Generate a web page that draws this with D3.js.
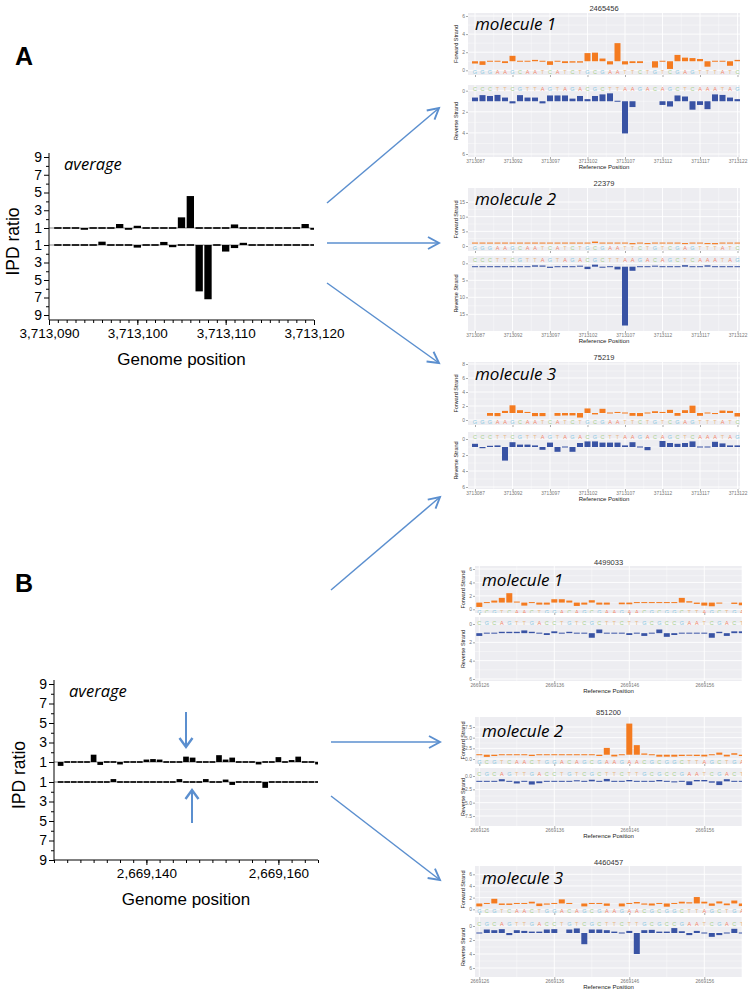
<!DOCTYPE html>
<html><head><meta charset="utf-8">
<script src="https://cdn.jsdelivr.net/npm/d3@7"></script>
<style>body{margin:0;background:#fff}svg{display:block}</style>
</head><body>
<svg id="chart" width="749" height="997"></svg>
<script>
// ---- data ----
// average IPD ratio, panel A (first value at 3,713,091)
var avgA_start = 3713091;
var avgA_fwd = [1.0,1.0,1.0,0.8,1.0,1.0,1.1,1.45,0.8,1.25,1.0,1.1,0.95,0.85,2.2,4.6,1.05,0.9,1.0,1.0,1.4,0.9,0.85,1.0,0.95,1.0,1.0,0.85,1.45,0.8];
var avgA_rev = [1.0,0.95,1.0,0.9,0.95,0.62,1.1,1.0,1.0,1.3,1.0,1.0,0.65,1.25,0.9,1.15,6.3,7.2,0.9,1.75,1.35,0.75,1.0,1.0,1.0,0.85,1.0,1.0,1.0,1.0];
// average IPD ratio, panel B (first value at 2,669,127)
var avgB_start = 2669127;
var avgB_fwd = [0.6,1.1,1.0,0.95,1.1,1.75,0.7,1.15,1.1,0.75,1.0,0.9,1.0,1.25,1.3,1.25,1.0,1.0,1.15,1.55,1.45,1.1,1.05,1.0,1.7,1.25,1.45,1.0,1.05,1.0,0.75,1.05,1.1,1.5,1.0,1.2,1.55,0.95,1.0,0.75];
var avgB_rev = [0.9,0.85,1.1,1.0,1.0,0.9,1.0,1.0,0.7,1.0,1.05,1.0,1.0,0.95,0.85,1.0,1.05,1.0,0.7,1.0,1.1,1.0,0.7,1.0,1.0,0.75,1.3,1.0,1.0,1.05,1.0,1.6,1.0,1.0,0.95,1.0,1.1,1.0,1.0,1.05];

// single molecules, panel A (first value at 3713087)
var molA_start = 3713087;
var seqA_fwd = "GGGAAGCAATCATCTGCGAATTCTGTCGAGTTTATC";
var seqA_rev = "CCCTTCGTTAGTAGACGCTTAAGACAGCTCAAATAG";
var mA1_fwd = [0.75,0.6,0.95,0.95,0.8,1.6,0.95,1.05,1.15,1.1,0.6,1.1,0.8,0.85,0.85,1.9,1.95,1.3,0.65,3.0,0.65,0.8,0.8,null,0.3,0.95,0.15,1.7,1.4,1.35,1.25,0.4,1.0,1.05,0.5,1.15];
var mA1_rev = [0.65,0.42,0.5,0.4,0.65,1.2,0.42,0.65,0.65,1.2,0.45,0.45,0.45,0.75,0.5,0.8,0.5,0.35,0.25,1.05,4.05,1.55,null,null,null,1.35,1.5,0.45,0.55,1.8,1.35,1.75,0.35,0.4,0.65,0.8];
var mA2_fwd = [1.1,0.7,1.0,1.0,1.05,0.9,0.85,0.9,0.9,0.8,0.75,0.9,0.9,0.95,1.0,0.7,1.5,0.8,0.7,0.8,1.05,0.6,1.0,0.65,0.8,0.9,0.75,0.9,0.65,1.0,0.75,0.65,0.6,0.75,0.85,0.8];
var mA2_rev = [1.0,0.8,0.8,0.85,0.85,0.9,1.0,0.8,0.6,0.65,1.35,1.0,1.2,1.0,0.7,1.7,0.4,1.3,0.8,1.8,18.3,2.2,1.0,0.85,0.7,1.2,0.8,1.0,0.55,1.25,1.0,0.6,0.85,0.8,0.85,0.85];
var mA3_fwd = [null,null,0.6,0.55,1.3,2.1,1.4,1.15,0.55,0.55,null,0.6,0.65,0.65,0.35,1.65,0.8,1.6,0.95,1.15,1.05,0.6,0.55,0.95,1.25,1.15,1.45,0.6,1.4,2.05,0.6,1.05,0.85,1.35,1.3,0.5];
var mA3_rev = [0.6,1.15,0.85,0.8,2.7,0.4,0.7,0.7,0.8,1.35,0.45,1.6,1.1,1.6,0.5,0.3,0.3,0.45,0.45,0.45,0.8,0.4,1.1,1.4,null,0.25,0.5,0.6,0.5,0.3,1.05,1.05,0.35,0.55,0.8,0.8];

// single molecules, panel B (first value at 2669126)
var molB_start = 2669126;
var seqB_fwd = "GCGTCAACTGGACAGCGAAGAACGCGGCTTAGCTGA";
var seqB_rev = "CGCAGTTGACCTGTCGCTTCTTGCGCCGAATCGACT";
var mB1_fwd = [0.35,1.05,1.3,1.7,2.4,1.15,0.55,1.05,0.7,0.7,1.5,1.5,1.3,0.5,0.7,1.35,0.7,0.7,null,0.75,0.75,1.0,0.95,1.0,1.05,1.0,1.0,1.7,1.2,0.8,0.55,0.45,0.85,null,0.8,0.6];
var mB1_rev = [1.3,0.9,1.1,0.85,0.85,0.85,0.7,0.85,0.95,1.2,0.8,1.05,0.85,1.1,1.0,1.5,0.6,1.1,0.95,0.95,1.2,0.95,1.3,0.9,0.6,1.4,1.2,1.0,1.0,1.05,1.0,1.5,0.85,1.3,0.8,0.8];
var mB2_fwd = [1.1,0.5,0.7,1.0,1.05,0.9,1.0,0.7,0.9,0.9,0.9,0.9,0.95,1.2,0.9,0.95,0.7,2.6,0.6,1.2,8.3,3.25,1.3,1.0,0.55,0.55,0.55,0.7,0.75,0.7,0.6,1.0,1.5,0.6,1.35,0.7];
var mB2_rev = [1.05,1.0,1.0,0.6,1.15,1.4,1.15,1.6,1.35,1.05,1.0,0.9,1.0,0.8,1.15,0.7,1.0,0.55,1.0,1.0,0.75,0.85,1.1,0.85,0.75,1.1,1.2,1.0,1.7,0.75,0.75,1.25,1.7,0.6,1.05,1.05];
var mB3_fwd = [0.5,1.0,1.8,0.75,0.75,1.1,0.85,1.3,0.55,0.8,0.95,1.7,1.0,null,0.5,1.1,0.85,0.6,null,0.5,0.9,1.25,0.8,0.65,1.0,0.45,1.15,1.3,1.2,2.1,1.3,0.6,1.35,0.7,1.5,0.55];
var mB3_rev = [1.1,0.5,0.6,0.45,1.3,0.6,0.7,0.8,0.8,0.5,0.45,null,0.5,0.35,2.6,0.5,0.5,0.6,0.8,1.1,0.7,4.0,0.6,0.55,0.8,0.8,0.3,0.75,1.3,0.7,1.0,1.55,1.3,0.95,0.4,1.0];

var ipdTicks = [1, 3, 5, 7, 9];
var ipdMinor = [2, 4, 6, 8];

var svg = d3.select("#chart");
var ARIAL = "'Liberation Sans', Arial, sans-serif";
var ITAL = "'Open Sans', 'Noto Sans', sans-serif";
var arrowBlue = "#5b8fcf";

// ---- big "average" chart ----
function drawAverage(L, start, fwd, rev) {
  var g = svg.append("g");
  var x = d3.scaleLinear().domain(L.xd).range(L.xr);
  var yF = d3.scaleLinear().domain([1, 9]).range([L.yF1, L.yF9]);
  var yR = d3.scaleLinear().domain([1, 9]).range([L.yR1, L.yR9]);
  var bw = (x(1) - x(0)) * L.bw;

  var clipId = "clip" + L.id;
  svg.append("clipPath").attr("id", clipId).append("rect")
    .attr("x", L.xr[0]).attr("y", L.yF9 - 5).attr("width", L.xr[1] - L.xr[0]).attr("height", L.axisY - L.yF9 + 5);
  var plot = g.append("g").attr("clip-path", "url(#" + clipId + ")");

  [yF(1), yR(1)].forEach(function(yy) {
    plot.append("line").attr("x1", L.xr[0]).attr("x2", L.xr[1]).attr("y1", yy).attr("y2", yy)
      .attr("stroke", "#888").attr("stroke-width", 1);
  });

  function bars(data, y) {
    plot.append("g").selectAll("rect").data(data).join("rect")
      .attr("x", function(d, i) { return x(start + i) - bw / 2; })
      .attr("width", bw)
      .attr("y", function(d) { var h = Math.abs(y(d) - y(1)); return h < 1.6 ? y(1) - 0.8 : Math.min(y(d), y(1)); })
      .attr("height", function(d) { return Math.max(1.6, Math.abs(y(d) - y(1))); })
      .attr("fill", "#000");
  }
  bars(fwd, yF);
  bars(rev, yR);

  // axes
  g.append("line").attr("x1", L.xr[0]).attr("x2", L.xr[0]).attr("y1", L.yF9 - 4).attr("y2", L.axisY).attr("stroke", "#000");
  g.append("line").attr("x1", L.xr[0]).attr("x2", L.xr[1]).attr("y1", L.axisY).attr("y2", L.axisY).attr("stroke", "#000");

  [yF, yR].forEach(function(y) {
    var a = g.append("g").attr("transform", "translate(" + L.xr[0] + ",0)")
      .call(d3.axisLeft(y).tickValues(ipdTicks).tickSize(5).tickPadding(2));
    a.select(".domain").remove();
    a.selectAll("text").attr("font-family", ARIAL).attr("font-size", 14).attr("fill", "#000");
    var m = g.append("g").attr("transform", "translate(" + L.xr[0] + ",0)")
      .call(d3.axisLeft(y).tickValues(ipdMinor).tickSize(3).tickFormat(""));
    m.select(".domain").remove();
  });

  var xm = g.append("g").attr("transform", "translate(0," + L.axisY + ")")
    .call(d3.axisBottom(x).tickValues(d3.range(L.xd[0], L.xd[1] + 1, L.minorStep)).tickSize(3).tickFormat(""));
  xm.select(".domain").remove();
  var xa = g.append("g").attr("transform", "translate(0," + L.axisY + ")")
    .call(d3.axisBottom(x).tickValues(L.xLabels).tickSize(5).tickPadding(3).tickFormat(d3.format(",")));
  xa.select(".domain").remove();
  xa.selectAll("text").attr("font-family", ARIAL).attr("font-size", 13.5).attr("fill", "#000");

  g.append("text").attr("x", L.xr[0] + 15).attr("y", L.yF9 + 13).text("average")
    .attr("font-family", ITAL).attr("font-style", "italic").attr("font-size", 16.5);
  g.append("text").attr("transform", "translate(" + L.ylabX + "," + ((L.yF9 + L.axisY) / 2 + 3) + ") rotate(-90)")
    .attr("text-anchor", "middle").text("IPD ratio").attr("font-family", ARIAL).attr("font-size", 17.5);
  g.append("text").attr("x", (L.xr[0] + L.xr[1]) / 2).attr("y", L.axisY + 45).attr("text-anchor", "middle")
    .text("Genome position").attr("font-family", ARIAL).attr("font-size", 17);
}

// ---- single-molecule panels ----
var baseColor = { A: "#f3876a", C: "#a9d08f", G: "#8cc9e2", T: "#e9b886" };

function drawMolecule(L, start, fwd, rev, sf, sr) {
  var g = svg.append("g");
  var x = d3.scaleLinear().domain([start, start + 35]).range([L.x0, L.x0 + 35 * 7.5]);
  var yF = d3.scaleLinear().domain([0, L.fMax]).range([L.fZero, L.fTopY]);
  var yR = d3.scaleLinear().domain([0, L.rMax]).range([L.rZero, L.rBotY]);
  var bw = 6;
  var fmt = L.fmt || d3.format("d");

  g.append("text").attr("x", (L.px0 + L.px1) / 2).attr("y", L.titleY).attr("text-anchor", "middle")
    .text(L.title).attr("font-family", ARIAL).attr("font-size", 7.5).attr("fill", "#333");

  function facet(top, bot, y, ticks, data, seq, seqY, color, id, label) {
    g.append("rect").attr("x", L.px0).attr("y", top).attr("width", L.px1 - L.px0).attr("height", bot - top).attr("fill", "#ededf1");
    svg.append("clipPath").attr("id", id).append("rect").attr("x", L.px0).attr("y", top).attr("width", L.px1 - L.px0).attr("height", bot - top);
    var p = g.append("g").attr("clip-path", "url(#" + id + ")");
    // grid
    var xs = d3.range(start - 10, start + 50, L.step / 2);
    p.selectAll(".vg").data(xs).join("line").attr("x1", x).attr("x2", x).attr("y1", top).attr("y2", bot)
      .attr("stroke", "#fff").attr("stroke-width", function(d) { return (d - L.gridOrigin) % L.step === 0 ? 0.9 : 0.4; });
    var hs = ticks.concat(ticks.slice(0, -1).map(function(t, i) { return (t + ticks[i + 1]) / 2; }));
    p.selectAll(".hg").data(hs).join("line").attr("x1", L.px0).attr("x2", L.px1).attr("y1", y).attr("y2", y)
      .attr("stroke", "#fff").attr("stroke-width", function(d) { return ticks.indexOf(d) >= 0 ? 0.9 : 0.4; });
    // letters
    p.selectAll(".ltr").data(seq.split("")).join("text")
      .attr("x", function(d, i) { return x(start + i); }).attr("y", seqY + 2)
      .attr("text-anchor", "middle").text(function(d) { return d; })
      .attr("font-family", ARIAL).attr("font-size", 5.5).attr("fill", function(d) { return baseColor[d]; });
    // bars
    p.selectAll(".bar").data(data.map(function(v, i) { return { p: start + i, v: v }; }).filter(function(d) { return d.v !== null; }))
      .join("rect")
      .attr("x", function(d) { return x(d.p) - bw / 2; }).attr("width", bw)
      .attr("y", function(d) { var h = Math.abs(y(d.v) - y(1)); return h < 1 ? y(1) - 0.5 : Math.min(y(d.v), y(1)); })
      .attr("height", function(d) { return Math.max(1, Math.abs(y(d.v) - y(1))); })
      .attr("fill", color);
    // y axis
    var a = g.append("g").attr("transform", "translate(" + L.px0 + ",0)")
      .call(d3.axisLeft(y).tickValues(ticks).tickSize(2).tickPadding(1).tickFormat(fmt));
    a.select(".domain").remove();
    a.selectAll("line").attr("stroke", "#555").attr("stroke-width", 0.5);
    a.selectAll("text").attr("font-family", ARIAL).attr("font-size", 5).attr("fill", "#777");
    g.append("text").attr("transform", "translate(" + (L.px0 - 10) + "," + ((top + bot) / 2) + ") rotate(-90)")
      .attr("text-anchor", "middle").text(label).attr("font-family", ARIAL).attr("font-size", 5.5).attr("fill", "#222");
  }

  facet(L.fTop, L.fBot, yF, d3.range(0, L.fMax + 0.01, L.fStep), fwd, sf, L.fSeqY, "#f47b20", "cf" + L.id, "Forward Strand");
  facet(L.rTop, L.rBot, yR, d3.range(0, L.rMax + 0.01, L.rStep), rev, sr, L.rSeqY, "#3953a4", "cr" + L.id, "Reverse Strand");

  var labs = d3.range(L.gridOrigin, start + 40, L.step).filter(function(d) { return x(d) <= L.px1 + 2; });
  [L.fBot, L.rBot].forEach(function(yy, k) {
    var ax = g.append("g").attr("transform", "translate(0," + yy + ")")
      .call(d3.axisBottom(x).tickValues(labs).tickSize(2).tickPadding(1).tickFormat(k ? d3.format("d") : ""));
    ax.select(".domain").remove();
    ax.selectAll("line").attr("stroke", "#555").attr("stroke-width", 0.5);
    ax.selectAll("text").attr("font-family", ARIAL).attr("font-size", 4.8).attr("fill", "#777");
  });
  g.append("text").attr("x", (L.px0 + L.px1) / 2).attr("y", L.rBot + 12).attr("text-anchor", "middle")
    .text("Reference Position").attr("font-family", ARIAL).attr("font-size", 6).attr("fill", "#222");

  g.append("text").attr("x", L.px0 + 7).attr("y", L.nameY).text(L.name)
    .attr("font-family", ITAL).attr("font-style", "italic").attr("font-size", 17).attr("fill", "#000");
}

// ---- arrows ----
function arrow(x1, y1, x2, y2, w, len, half) {
  var ang = Math.atan2(y2 - y1, x2 - x1);
  var p1 = [x2 - len * Math.cos(ang) + half * Math.sin(ang), y2 - len * Math.sin(ang) - half * Math.cos(ang)];
  var p2 = [x2 - len * Math.cos(ang) - half * Math.sin(ang), y2 - len * Math.sin(ang) + half * Math.cos(ang)];
  svg.append("line").attr("x1", x1).attr("y1", y1).attr("x2", x2).attr("y2", y2)
    .attr("stroke", arrowBlue).attr("stroke-width", w);
  svg.append("path").attr("d", "M" + p1 + "L" + [x2, y2] + "L" + p2)
    .attr("fill", "none").attr("stroke", arrowBlue).attr("stroke-width", w + 0.4).attr("stroke-linejoin", "miter");
}

// ---- panel A ----
svg.append("text").attr("x", 15).attr("y", 65).text("A").attr("font-family", ARIAL).attr("font-weight", "bold").attr("font-size", 25);
drawAverage({ id: "A", xd: [3713090, 3713120], xr: [49, 314], yF1: 228, yF9: 157, yR1: 245, yR9: 315, axisY: 320,
  bw: 0.83, minorStep: 1, xLabels: [3713090, 3713100, 3713110, 3713120], ylabX: 19 }, avgA_start, avgA_fwd, avgA_rev);

var pA = { px0: 468, px1: 740, x0: 475, step: 5, gridOrigin: 3713087 };
drawMolecule(Object.assign({ id: "A1", title: "2465456", name: "molecule 1", nameY: 30, titleY: 11,
  fTop: 13, fBot: 75, fZero: 70.3, fTopY: 16, fMax: 6, fStep: 2, fSeqY: 72,
  rTop: 85, rBot: 157, rZero: 90.7, rBotY: 154, rMax: 6, rStep: 2, rSeqY: 88.5 }, pA), molA_start, mA1_fwd, mA1_rev, seqA_fwd, seqA_rev);
drawMolecule(Object.assign({ id: "A2", title: "22379", name: "molecule 2", nameY: 205, titleY: 186,
  fTop: 188, fBot: 251, fZero: 246, fTopY: 202, fMax: 15, fStep: 5, fSeqY: 248,
  rTop: 256, rBot: 331, rZero: 263.3, rBotY: 314.3, rMax: 15, rStep: 5, rSeqY: 260 }, pA), molA_start, mA2_fwd, mA2_rev, seqA_fwd, seqA_rev);
drawMolecule(Object.assign({ id: "A3", title: "75219", name: "molecule 3", nameY: 380, titleY: 360,
  fTop: 362, fBot: 425, fZero: 420, fTopY: 364, fMax: 8, fStep: 2, fSeqY: 421.5,
  rTop: 432, rBot: 489, rZero: 439, rBotY: 487, rMax: 6, rStep: 2, rSeqY: 436.5 }, pA), molA_start, mA3_fwd, mA3_rev, seqA_fwd, seqA_rev);

arrow(327, 203, 439, 108, 1.5, 11, 6);
arrow(327, 243, 439, 243, 1.5, 11, 6);
arrow(327, 283, 439, 363, 1.5, 11, 6);

// ---- panel B ----
svg.append("text").attr("x", 15).attr("y", 592).text("B").attr("font-family", ARIAL).attr("font-weight", "bold").attr("font-size", 25);
drawAverage({ id: "B", xd: [2669126, 2669166], xr: [54, 318], yF1: 762, yF9: 684, yR1: 782, yR9: 860, axisY: 860,
  bw: 0.86, minorStep: 2, xLabels: [2669140, 2669160], ylabX: 25 }, avgB_start, avgB_fwd, avgB_rev);

var pB = { px0: 475, px1: 742, x0: 479.3, step: 10, gridOrigin: 2669126 };
drawMolecule(Object.assign({ id: "B1", title: "4499033", name: "molecule 1", nameY: 586, titleY: 565,
  fTop: 566, fBot: 613, fZero: 609.3, fTopY: 569, fMax: 6, fStep: 2, fSeqY: 611.5,
  rTop: 617, rBot: 681, rZero: 624, rBotY: 679, rMax: 6, rStep: 2, rSeqY: 623 }, pB), molB_start, mB1_fwd, mB1_rev, seqB_fwd, seqB_rev);
drawMolecule(Object.assign({ id: "B2", title: "851200", name: "molecule 2", nameY: 737, titleY: 715, fmt: d3.format(".1f"),
  fTop: 717, fBot: 764, fZero: 759, fTopY: 727, fMax: 7.5, fStep: 2.5, fSeqY: 761.5,
  rTop: 768, rBot: 826, rZero: 776, rBotY: 816, rMax: 7.5, rStep: 2.5, rSeqY: 773.5 }, pB), molB_start, mB2_fwd, mB2_rev, seqB_fwd, seqB_rev);
drawMolecule(Object.assign({ id: "B3", title: "4460457", name: "molecule 3", nameY: 884, titleY: 865,
  fTop: 866, fBot: 913, fZero: 909.3, fTopY: 874.3, fMax: 6, fStep: 2, fSeqY: 911,
  rTop: 917, rBot: 977, rZero: 926, rBotY: 968, rMax: 6, rStep: 2, rSeqY: 923.5 }, pB), molB_start, mB3_fwd, mB3_rev, seqB_fwd, seqB_rev);

arrow(331, 590, 440, 497, 1.5, 11, 6);
arrow(331, 742, 440, 742, 1.5, 11, 6);
arrow(331, 796, 440, 880, 1.5, 11, 6);
// small arrows on the B average chart
arrow(186, 712, 186, 747, 2, 9, 6.5);
arrow(192, 823, 192, 790, 2, 9, 6.5);
</script>
</body></html>
